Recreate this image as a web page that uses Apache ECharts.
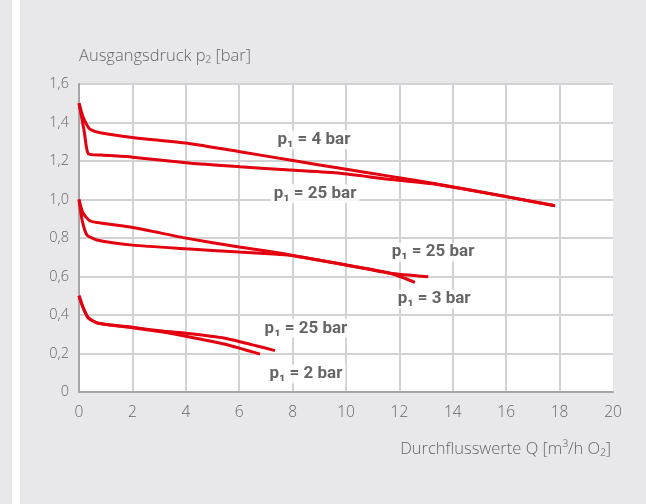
<!DOCTYPE html>
<html><head><meta charset="utf-8">
<script src="https://cdn.jsdelivr.net/npm/echarts@6/dist/echarts.min.js"></script>
<style>html,body{margin:0;padding:0;background:#e8e8ea}#c{width:646px;height:504px}</style>
</head><body><div id="c"></div>
<script>
// Axis ticks
const xTicks = [0,2,4,6,8,10,12,14,16,18,20];
const yTicks = ['0','0,2','0,4','0,6','0,8','1,0','1,2','1,4','1,6'];
// Series values [Q, p2]
const top4bar = [[0,1.5],[0.15,1.43],[0.41,1.365],[0.85,1.345],[2,1.322],[4.16,1.29],[6.03,1.248],[7.9,1.205],[9.78,1.162],[11.5,1.124],[13.3,1.083],[16,1.015],[17.83,0.968]];
const top25bar = [[0,1.5],[0.2,1.35],[0.35,1.238],[0.85,1.231],[2,1.22],[4.2,1.188],[6.03,1.17],[7.9,1.153],[9.78,1.136],[11.5,1.107],[13.3,1.08],[16,1.015],[17.83,0.968]];
const mid3bar = [[0,1.0],[0.15,0.93],[0.4,0.89],[0.8,0.878],[2,0.855],[3,0.828],[3.9,0.802],[6,0.753],[7.27,0.727],[7.9,0.712],[10,0.66],[11.65,0.617],[12.58,0.57]];
const mid25bar = [[0,1.0],[0.12,0.89],[0.3,0.815],[0.67,0.79],[2,0.763],[4,0.744],[6,0.727],[7.27,0.717],[7.9,0.71],[10,0.66],[11.65,0.617],[13.08,0.599]];
const low25bar = [[0,0.5],[0.15,0.44],[0.35,0.385],[0.72,0.357],[2,0.336],[3.2,0.315],[4,0.305],[5.47,0.279],[6.5,0.245],[7.34,0.215]];
const low2bar = [[0,0.5],[0.15,0.44],[0.35,0.385],[0.72,0.357],[2,0.334],[3.2,0.31],[4,0.29],[5.47,0.248],[6.78,0.197]];
// Curve labels [Q, p2, text]
const curveLabels = [
  [8.8,1.31,'p₁ = 4 bar'],
  [8.84,1.03,'p₁ = 25 bar'],
  [13.26,0.726,'p₁ = 25 bar'],
  [13.3,0.482,'p₁ = 3 bar'],
  [8.5,0.331,'p₁ = 25 bar'],
  [8.5,0.094,'p₁ = 2 bar']
];
const RED = '#e3000f';
const FONT = '"Open Sans", "Liberation Sans", sans-serif';
const LFONT = 'Roboto, "Liberation Sans", sans-serif';
function line(name, data){
  return {name, type:'line', data, smooth:0.2, showSymbol:false, symbol:'none',
    lineStyle:{color:RED, width:3}, z:3, animation:false};
}
const chart = echarts.init(document.getElementById('c'), null, {renderer:'canvas'});
const splitColors = xTicks.map((v,i)=> i===xTicks.length-1 ? 'rgba(0,0,0,0)' : '#d2d2d4');
chart.setOption({
  backgroundColor:'#e8e8ea',
  animation:false,
  graphic:[{type:'rect', shape:{x:12,y:0,width:8,height:504}, style:{fill:'#ffffff'}, silent:true}],
  grid:{left:79, right:33, top:84, bottom:112, show:true, backgroundColor:'#ffffff', borderWidth:0},
  xAxis:{type:'value', min:0, max:20, interval:2,
    name:'Durchflusswerte Q [m³/h O₂]', nameLocation:'end', nameGap:-2,
    nameTextStyle:{color:'#666668', fontSize:16.5, fontFamily:FONT, fontWeight:300, align:'right', verticalAlign:'top', padding:[49,0,0,0]},
    axisLine:{show:true, lineStyle:{color:'#a5a5a7', width:2}},
    axisTick:{show:false},
    axisLabel:{color:'#666668', fontSize:15.5, fontFamily:FONT, fontWeight:300, margin:13,
      formatter:(v)=>{const i=xTicks.indexOf(v); return i>=0?String(xTicks[i]):'';}},
    splitLine:{show:true, lineStyle:{color:splitColors, width:2}}
  },
  yAxis:{type:'value', min:0, max:1.6, interval:0.2,
    name:'Ausgangsdruck p₂ [bar]', nameLocation:'end', nameGap:19,
    nameTextStyle:{color:'#666668', fontSize:16.5, fontFamily:FONT, fontWeight:300, align:'left', padding:[0,0,0,0]},
    axisLine:{show:true, lineStyle:{color:'#a5a5a7', width:2}},
    axisTick:{show:false},
    axisLabel:{color:'#666668', fontSize:14.5, fontFamily:FONT, fontWeight:300, margin:10,
      formatter:(v)=>yTicks[Math.round(v/0.2)]},
    splitLine:{show:true, lineStyle:{color:'#d2d2d4', width:2}}
  },
  series:[
    line('p1 = 4 bar (oben)', top4bar),
    line('p1 = 25 bar (oben)', top25bar),
    line('p1 = 3 bar (mitte)', mid3bar),
    line('p1 = 25 bar (mitte)', mid25bar),
    line('p1 = 25 bar (unten)', low25bar),
    line('p1 = 2 bar (unten)', low2bar),
    {type:'scatter', symbolSize:0, z:2, silent:true,
      data:curveLabels.map(d=>({value:[d[0],d[1]], name:d[2]})),
      label:{show:true, position:'inside', formatter:(p)=>p.name,
        color:'#3f3f41', fontSize:17, fontWeight:'bold', fontFamily:LFONT,
        backgroundColor:'#ffffff', padding:[1,3,1,3]}
    }
  ]
});
</script></body></html>
